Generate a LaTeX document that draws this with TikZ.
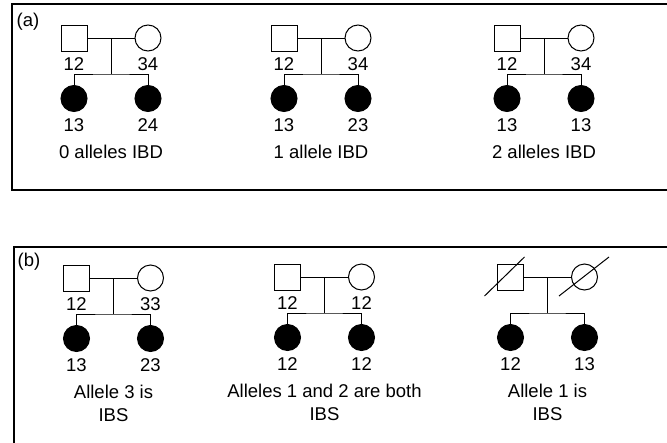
\documentclass[tikz,border=0pt]{standalone}
\usepackage{fontspec}
\setmainfont{Liberation Sans}
\usetikzlibrary{positioning}

% one nuclear family: #1 name, (#2,#3) marriage point,
% #4 father, #5 mother, #6 #7 children genotypes, #8 caption
\newcommand{\family}[8]{%
	\node[male] (#1f) at (#2-37,#3) {};
	\node[female] (#1m) at (#2+37,#3) {};
	\node[affected] (#1a) at (#2-37,#3+60.5) {};
	\node[affected] (#1b) at (#2+37,#3+60.5) {};
	\coordinate (#1j) at (#2,#3);
	\coordinate (#1s) at (#2,#3+36);
	\draw[line] (#1f) -- (#1m);
	\draw[line] (#1j) -- (#1s);
	\draw[line] (#1a) |- (#1s) -| (#1b);
	\node[geno] (#1fl) at (#2-37,#3+26.5) {#4};
	\node[geno] (#1ml) at (#2+37,#3+26.5) {#5};
	\node[geno] (#1al) at (#2-37,#3+87) {#6};
	\node[geno] (#1bl) at (#2+37,#3+87) {#7};
	\node[caption] (#1c) at (#2,#3+106.5) {#8};
}

\begin{document}
\begin{tikzpicture}[x=1pt,y=-1pt]
	
	\tikzstyle{line} = [line width=1pt]
	\tikzstyle{male} = [draw,line width=1pt,fill=white,minimum size=26pt,inner sep=0pt]
	\tikzstyle{female} = [draw,line width=1pt,fill=white,circle,minimum size=26pt,inner sep=0pt]
	\tikzstyle{affected} = [draw,line width=1pt,fill=black,circle,minimum size=26pt,inner sep=0pt]
	\tikzstyle{geno} = [inner sep=0pt,font=\fontsize{18.5}{22}\selectfont]
	\tikzstyle{caption} = [inner sep=0pt,anchor=north,align=center,font=\fontsize{18.5}{23}\selectfont]
	\tikzstyle{panel} = [line width=1.2pt]
	
	\useasboundingbox (0,0) rectangle (667,442);
	\clip (0,0) rectangle (667,442);
	
	% panel frames run off the page on the right and at the bottom
	\draw[panel] (12,4) rectangle (700,190);
	\draw[panel] (14,247) rectangle (700,480);
	\node[geno] (alab) at (28,22) {(a)};
	\node[geno] (blab) at (29,262) {(b)};
	
	% (a) identity by descent
	\family{a1}{111}{38}{12}{34}{13}{24}{0 alleles IBD}
	\family{a2}{321}{38}{12}{34}{13}{23}{1 allele IBD}
	\family{a3}{544}{38}{12}{34}{13}{13}{2 alleles IBD}
	
	% (b) identity by state
	\family{b1}{113.5}{278}{12}{33}{13}{23}{Allele 3 is\\IBS}
	\family{b2}{324.5}{277}{12}{12}{12}{12}{Alleles 1 and 2 are both\\IBS}
	\family{b3}{547.5}{277}{}{}{12}{13}{Allele 1 is\\IBS}
	
	% deceased parents
	\draw[line] ([shift={(-26,19)}]b3f.center) -- ([shift={(14,-20)}]b3f.center);
	\draw[line] ([shift={(-25.5,19)}]b3m.center) -- ([shift={(24.5,-20)}]b3m.center);
	
\end{tikzpicture}
\end{document}
